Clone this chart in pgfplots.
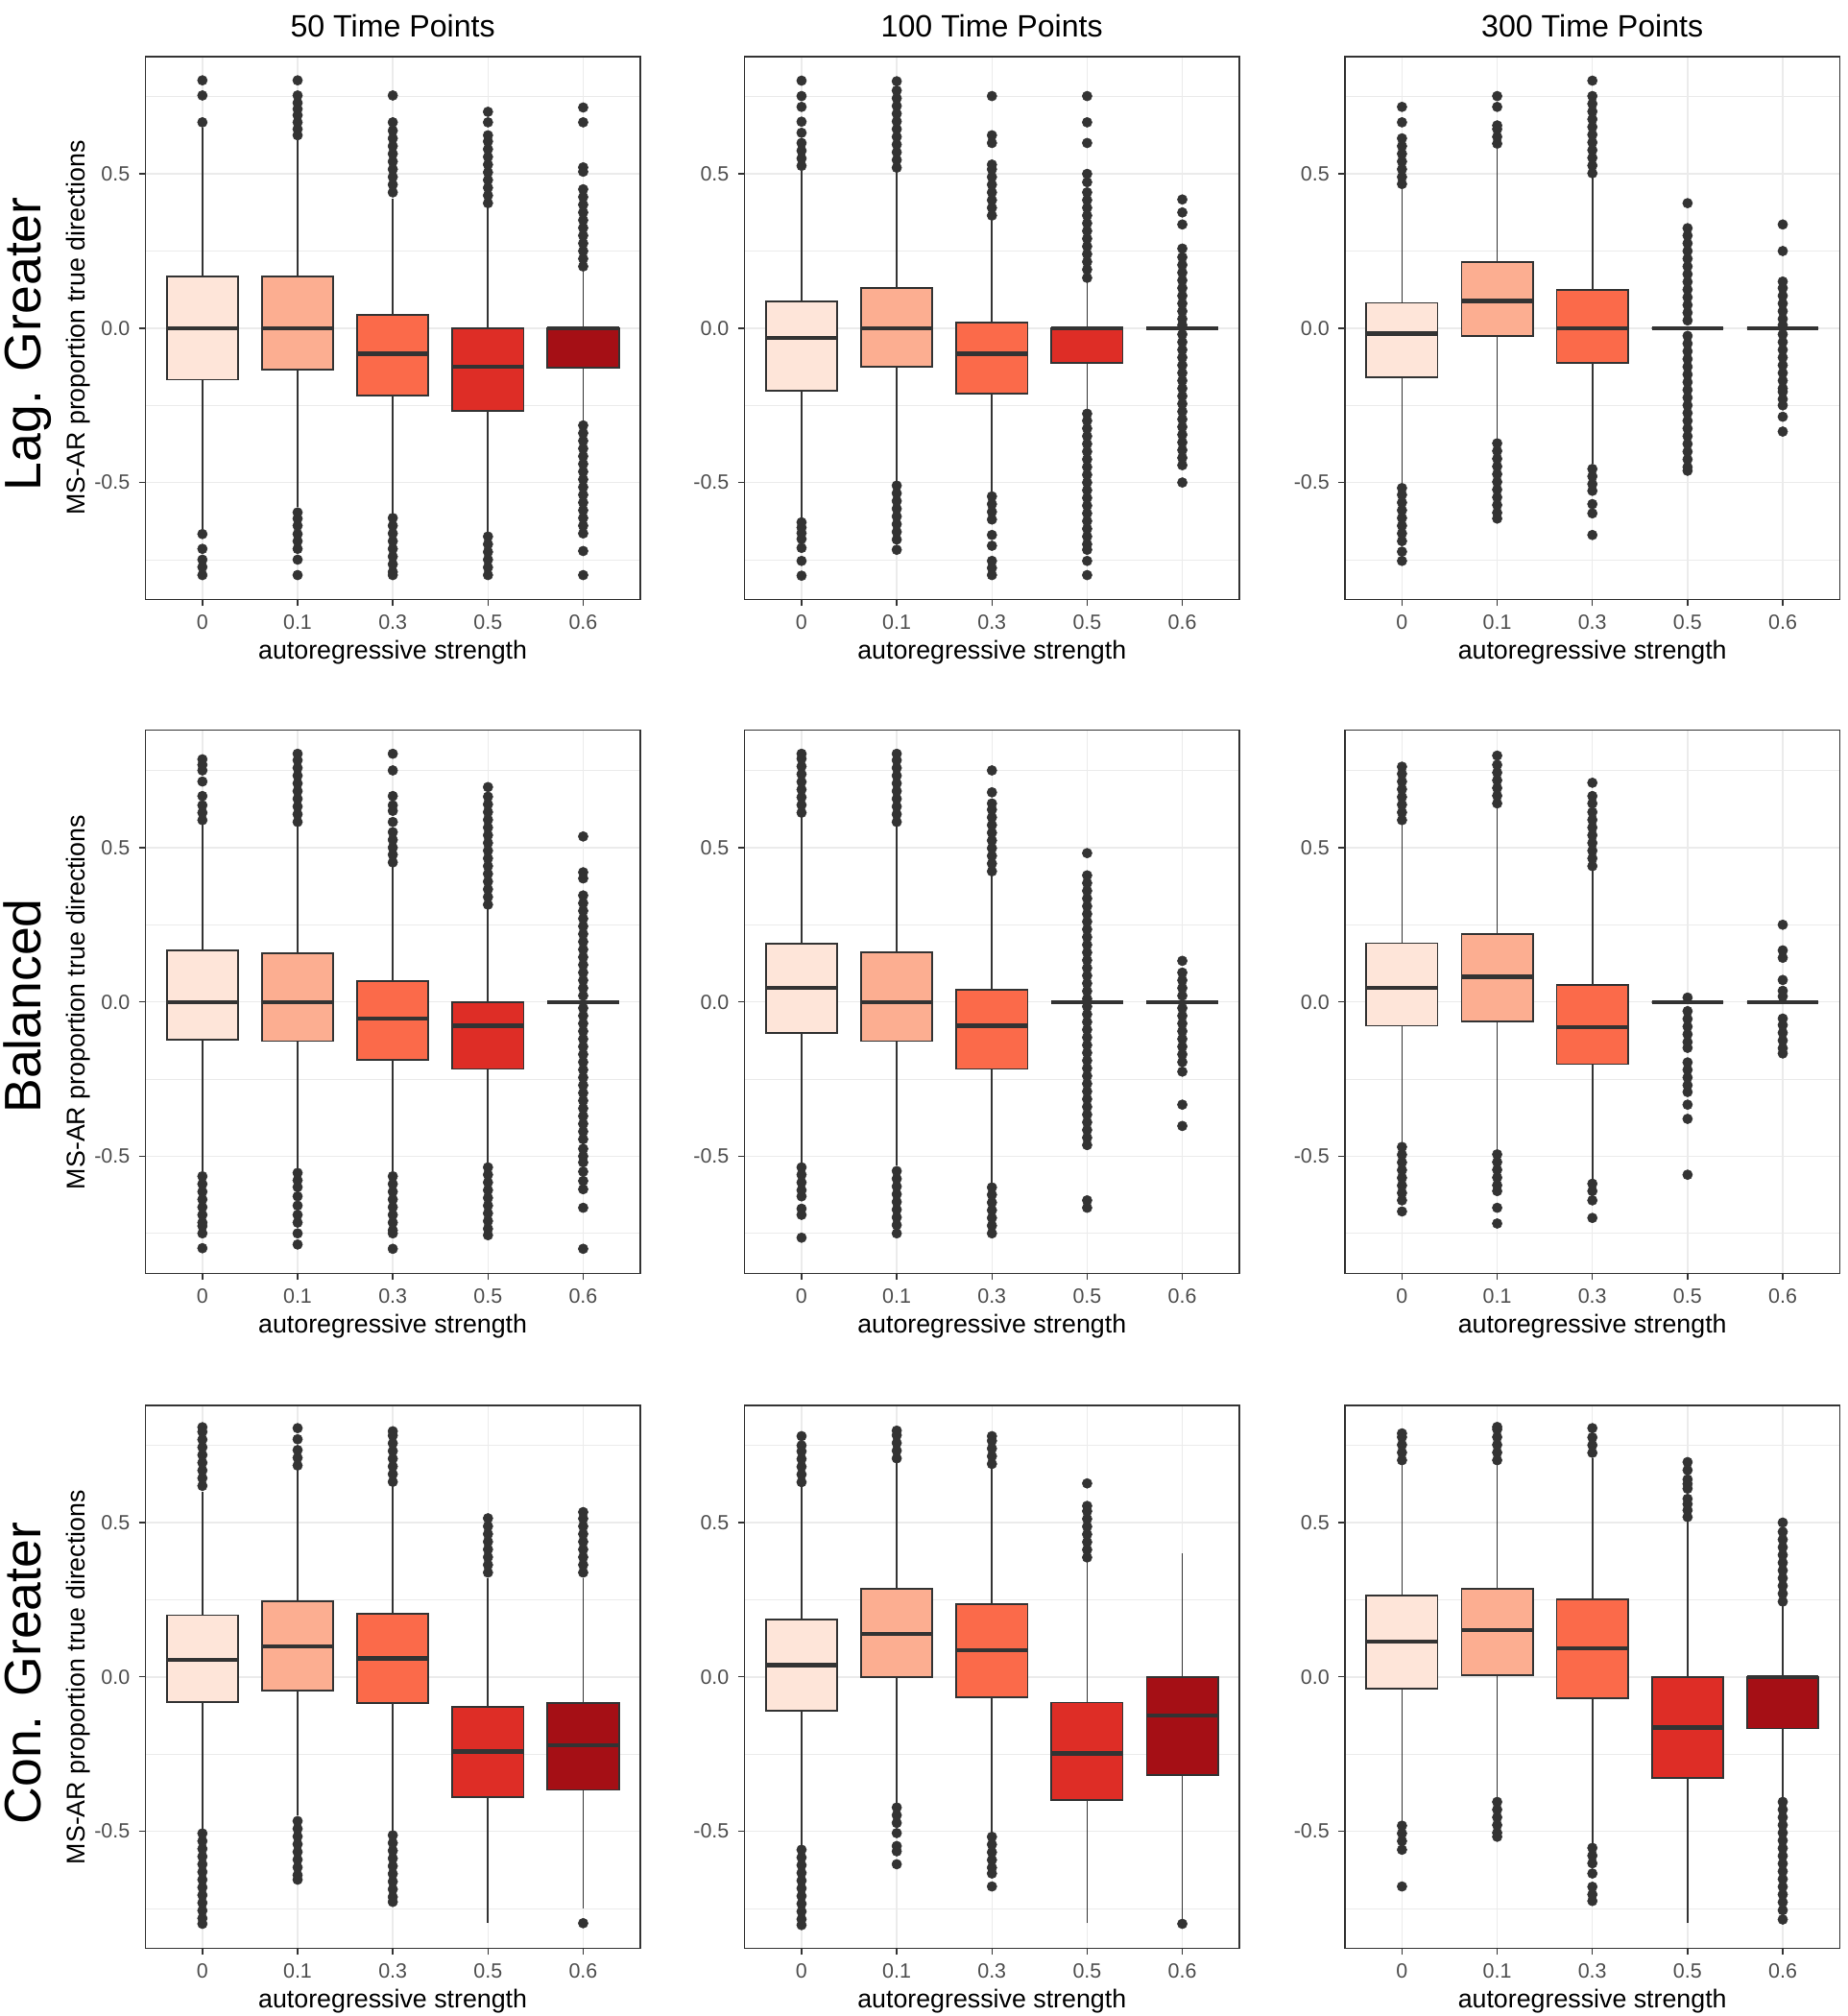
\documentclass[border=0pt]{standalone}
\usepackage{fontspec}
\setmainfont{Liberation Sans}
\usepackage{pgfplots}
\pgfplotsset{compat=1.18}
\usepgfplotslibrary{statistics}
\definecolor{c1}{HTML}{FEE5D9}
\definecolor{c2}{HTML}{FCAE91}
\definecolor{c3}{HTML}{FB6A4A}
\definecolor{c4}{HTML}{DE2D26}
\definecolor{c5}{HTML}{A50F15}
\definecolor{g20}{HTML}{333333}
\definecolor{g30}{HTML}{4D4D4D}
\definecolor{g92}{HTML}{EBEBEB}
\pgfplotsset{
 panel/.style={
   scale only axis, width=192.5pt, height=211.25pt,
   xmin=0.4, xmax=5.6, ymin=-0.88, ymax=0.88,
   xtick={1,2,3,4,5}, xticklabels={0,0.1,0.3,0.5,0.6},
   ytick={-0.5,0,0.5}, yticklabels={-0.5,0.0,0.5},
   minor ytick={-0.75,-0.25,0.25,0.75},
   grid=both,
   major grid style={draw=g92, line width=0.55pt},
   minor grid style={draw=g92, line width=0.3pt},
   xtick pos=bottom, ytick pos=left,
   tick align=outside, major tick length=2.5pt, minor tick length=0pt,
   tick style={draw=g20, line width=0.5pt},
   axis line style={draw=g20, line width=0.5pt},
   tick label style={font=\fontsize{8}{9.6}\selectfont, text=g30},
   xlabel={autoregressive strength},
   every axis x label/.style={at={(axis description cs:0.5,0)}, anchor=base, yshift=-23pt, font=\fontsize{10}{12}\selectfont},
   clip=true,
 },
 bxst/.style={draw=g20, line width=0.65pt, mark=*, mark size=1.9pt,
   mark options={draw=g20, fill=g20, line width=0.2pt, solid, mark size=1.9pt},
   boxplot/draw direction=y,
   boxplot/box extend=0.75, boxplot/whisker extend=0,
   boxplot/every median/.style={line width=1.6pt}},
}
\newcommand{\bx}[8]{%
\addplot[bxst, fill=#2, boxplot prepared={draw position=#1, lower whisker=#3, lower quartile=#4, median=#5, upper quartile=#6, upper whisker=#7}] table[row sep=\\, y index=0, header=false] {#8};}
\begin{document}
\begin{tikzpicture}
\useasboundingbox (0,0) rectangle (718.5pt,-784pt);
% column titles
\node[anchor=base, font=\fontsize{12}{14}\selectfont] at (152.75pt,-14.25pt) {50 Time Points};
\node[anchor=base, font=\fontsize{12}{14}\selectfont] at (385.75pt,-14.25pt) {100 Time Points};
\node[anchor=base, font=\fontsize{12}{14}\selectfont] at (619.25pt,-14.25pt) {300 Time Points};
% row titles
\node[rotate=90, anchor=base, font=\fontsize{20}{24}\selectfont] at (16pt,-133.75pt) {Lag. Greater};
\node[rotate=90, anchor=base, font=\fontsize{20}{24}\selectfont] at (16pt,-391.25pt) {Balanced};
\node[rotate=90, anchor=base, font=\fontsize{20}{24}\selectfont] at (16pt,-650.75pt) {Con. Greater};
% y labels
\node[rotate=90, anchor=base, font=\fontsize{10}{12}\selectfont] at (33pt,-127.5pt) {MS-AR proportion true directions};
\node[rotate=90, anchor=base, font=\fontsize{10}{12}\selectfont] at (33pt,-389.75pt) {MS-AR proportion true directions};
\node[rotate=90, anchor=base, font=\fontsize{10}{12}\selectfont] at (33pt,-652.25pt) {MS-AR proportion true directions};

% ===== Row 1: Lag. Greater =====
\begin{axis}[panel, at={(56.5pt,-22pt)}, anchor=north west]
\bx{1}{c1}{-0.65}{-0.167}{0}{0.167}{0.65}{0.667\\0.754\\0.803\\-0.667\\-0.715\\-0.75\\-0.774\\-0.8\\}
\bx{2}{c2}{-0.58}{-0.135}{0}{0.167}{0.61}{0.625\\0.645\\0.667\\0.69\\0.71\\0.73\\0.754\\0.803\\-0.597\\-0.617\\-0.64\\-0.667\\-0.69\\-0.715\\-0.75\\-0.8\\}
\bx{3}{c3}{-0.6}{-0.218}{-0.083}{0.042}{0.42}{0.44\\0.465\\0.49\\0.515\\0.54\\0.565\\0.59\\0.615\\0.64\\0.667\\0.754\\-0.615\\-0.64\\-0.665\\-0.69\\-0.715\\-0.74\\-0.765\\-0.79\\-0.8\\}
\bx{4}{c4}{-0.66}{-0.268}{-0.125}{0}{0.39}{0.405\\0.43\\0.455\\0.48\\0.505\\0.53\\0.555\\0.58\\0.605\\0.625\\0.667\\0.701\\-0.675\\-0.7\\-0.725\\-0.75\\-0.775\\-0.8\\}
\bx{5}{c5}{-0.3}{-0.128}{0}{0}{0.185}{0.2\\0.225\\0.25\\0.275\\0.3\\0.325\\0.35\\0.375\\0.4\\0.425\\0.45\\0.507\\0.521\\0.667\\0.715\\-0.315\\-0.34\\-0.365\\-0.39\\-0.415\\-0.44\\-0.465\\-0.49\\-0.515\\-0.54\\-0.565\\-0.59\\-0.615\\-0.64\\-0.665\\-0.722\\-0.8\\}
\end{axis}
\begin{axis}[panel, at={(289.5pt,-22pt)}, anchor=north west]
\bx{1}{c1}{-0.62}{-0.202}{-0.031}{0.086}{0.51}{0.526\\0.55\\0.575\\0.6\\0.633\\0.669\\0.717\\0.752\\0.802\\-0.629\\-0.646\\-0.664\\-0.683\\-0.712\\-0.754\\-0.802\\}
\bx{2}{c2}{-0.5}{-0.125}{0}{0.131}{0.51}{0.52\\0.545\\0.57\\0.595\\0.62\\0.645\\0.67\\0.695\\0.72\\0.745\\0.77\\0.8\\-0.51\\-0.535\\-0.56\\-0.585\\-0.61\\-0.635\\-0.66\\-0.685\\-0.718\\}
\bx{3}{c3}{-0.53}{-0.211}{-0.083}{0.018}{0.35}{0.365\\0.39\\0.415\\0.44\\0.465\\0.49\\0.515\\0.53\\0.6\\0.625\\0.752\\-0.545\\-0.57\\-0.595\\-0.62\\-0.67\\-0.705\\-0.754\\-0.777\\-0.8\\}
\bx{4}{c4}{-0.27}{-0.113}{0}{0}{0.15}{0.163\\0.19\\0.215\\0.24\\0.265\\0.29\\0.315\\0.34\\0.365\\0.39\\0.415\\0.44\\0.473\\0.5\\0.6\\0.667\\0.752\\-0.277\\-0.3\\-0.325\\-0.35\\-0.375\\-0.4\\-0.425\\-0.45\\-0.475\\-0.5\\-0.525\\-0.55\\-0.575\\-0.6\\-0.625\\-0.65\\-0.675\\-0.7\\-0.718\\-0.754\\-0.8\\}
\bx{5}{c5}{0}{0}{0}{0}{0}{0.417\\0.375\\0.336\\0.258\\0.23\\0.205\\0.18\\0.155\\0.13\\0.105\\0.08\\0.055\\0.03\\0.01\\-0.02\\-0.045\\-0.07\\-0.095\\-0.12\\-0.145\\-0.17\\-0.195\\-0.22\\-0.245\\-0.27\\-0.295\\-0.32\\-0.345\\-0.37\\-0.395\\-0.42\\-0.444\\-0.5\\}
\end{axis}
\begin{axis}[panel, at={(523pt,-22pt)}, anchor=north west]
\bx{1}{c1}{-0.5}{-0.158}{-0.018}{0.082}{0.45}{0.467\\0.49\\0.515\\0.54\\0.565\\0.59\\0.615\\0.667\\0.717\\-0.518\\-0.54\\-0.565\\-0.59\\-0.615\\-0.64\\-0.665\\-0.69\\-0.724\\-0.754\\}
\bx{2}{c2}{-0.36}{-0.025}{0.088}{0.214}{0.58}{0.598\\0.62\\0.645\\0.657\\0.717\\0.752\\-0.373\\-0.398\\-0.423\\-0.448\\-0.473\\-0.498\\-0.523\\-0.548\\-0.573\\-0.598\\-0.617\\}
\bx{3}{c3}{-0.44}{-0.113}{0}{0.125}{0.49}{0.502\\0.527\\0.552\\0.577\\0.602\\0.627\\0.652\\0.677\\0.702\\0.727\\0.752\\0.802\\-0.456\\-0.48\\-0.505\\-0.527\\-0.57\\-0.6\\-0.67\\}
\bx{4}{c4}{0}{0}{0}{0}{0}{0.405\\0.324\\0.3\\0.275\\0.25\\0.225\\0.2\\0.175\\0.15\\0.125\\0.1\\0.075\\0.05\\0.025\\-0.025\\-0.05\\-0.075\\-0.1\\-0.125\\-0.15\\-0.175\\-0.2\\-0.225\\-0.25\\-0.275\\-0.3\\-0.325\\-0.35\\-0.375\\-0.4\\-0.425\\-0.45\\-0.462\\}
\bx{5}{c5}{0}{0}{0}{0}{0}{0.336\\0.25\\0.151\\0.13\\0.105\\0.08\\0.055\\0.03\\0.01\\-0.02\\-0.045\\-0.07\\-0.095\\-0.12\\-0.145\\-0.17\\-0.195\\-0.206\\-0.23\\-0.25\\-0.287\\-0.335\\}
\end{axis}

% ===== Row 2: Balanced =====
\begin{axis}[panel, at={(56.5pt,-284pt)}, anchor=north west]
\bx{1}{c1}{-0.55}{-0.123}{0}{0.167}{0.575}{0.589\\0.613\\0.637\\0.667\\0.714\\0.75\\0.768\\0.786\\-0.565\\-0.59\\-0.615\\-0.64\\-0.665\\-0.69\\-0.715\\-0.726\\-0.75\\-0.798\\}
\bx{2}{c2}{-0.54}{-0.127}{0}{0.157}{0.57}{0.583\\0.608\\0.633\\0.658\\0.683\\0.708\\0.733\\0.758\\0.783\\0.804\\-0.554\\-0.578\\-0.6\\-0.63\\-0.66\\-0.69\\-0.715\\-0.75\\-0.786\\}
\bx{3}{c3}{-0.55}{-0.187}{-0.054}{0.068}{0.44}{0.452\\0.477\\0.5\\0.525\\0.55\\0.583\\0.619\\0.637\\0.667\\0.75\\0.804\\-0.565\\-0.59\\-0.615\\-0.64\\-0.665\\-0.69\\-0.715\\-0.74\\-0.75\\-0.8\\}
\bx{4}{c4}{-0.52}{-0.217}{-0.077}{0}{0.3}{0.315\\0.34\\0.365\\0.39\\0.415\\0.44\\0.465\\0.49\\0.515\\0.54\\0.565\\0.59\\0.615\\0.64\\0.665\\0.696\\-0.536\\-0.56\\-0.585\\-0.61\\-0.635\\-0.66\\-0.685\\-0.71\\-0.735\\-0.756\\}
\bx{5}{c5}{0}{0}{0}{0}{0}{0.536\\0.42\\0.4\\0.345\\0.32\\0.295\\0.27\\0.245\\0.22\\0.195\\0.17\\0.145\\0.12\\0.095\\0.07\\0.045\\0.02\\-0.02\\-0.045\\-0.07\\-0.095\\-0.12\\-0.145\\-0.17\\-0.195\\-0.22\\-0.245\\-0.27\\-0.295\\-0.32\\-0.345\\-0.37\\-0.395\\-0.42\\-0.445\\-0.476\\-0.5\\-0.52\\-0.55\\-0.58\\-0.607\\-0.667\\-0.8\\}
\end{axis}
\begin{axis}[panel, at={(289.5pt,-284pt)}, anchor=north west]
\bx{1}{c1}{-0.52}{-0.101}{0.045}{0.188}{0.6}{0.613\\0.638\\0.663\\0.688\\0.713\\0.738\\0.763\\0.788\\0.804\\-0.536\\-0.56\\-0.585\\-0.61\\-0.63\\-0.67\\-0.69\\-0.764\\}
\bx{2}{c2}{-0.53}{-0.127}{0}{0.16}{0.57}{0.583\\0.608\\0.633\\0.658\\0.683\\0.708\\0.733\\0.758\\0.783\\0.804\\-0.548\\-0.573\\-0.598\\-0.623\\-0.648\\-0.673\\-0.698\\-0.723\\-0.75\\}
\bx{3}{c3}{-0.59}{-0.217}{-0.077}{0.04}{0.41}{0.423\\0.448\\0.473\\0.498\\0.523\\0.548\\0.573\\0.598\\0.623\\0.643\\0.679\\0.75\\-0.601\\-0.625\\-0.65\\-0.675\\-0.7\\-0.725\\-0.75\\}
\bx{4}{c4}{0}{0}{0}{0}{0}{0.482\\0.41\\0.385\\0.36\\0.335\\0.31\\0.285\\0.26\\0.235\\0.21\\0.185\\0.16\\0.135\\0.11\\0.085\\0.06\\0.035\\0.01\\-0.015\\-0.04\\-0.065\\-0.09\\-0.115\\-0.14\\-0.165\\-0.19\\-0.215\\-0.24\\-0.265\\-0.29\\-0.315\\-0.34\\-0.365\\-0.39\\-0.415\\-0.44\\-0.464\\-0.643\\-0.667\\}
\bx{5}{c5}{0}{0}{0}{0}{0}{0.133\\0.095\\0.07\\0.045\\0.02\\-0.02\\-0.045\\-0.07\\-0.095\\-0.12\\-0.145\\-0.17\\-0.195\\-0.226\\-0.333\\-0.402\\}
\end{axis}
\begin{axis}[panel, at={(523pt,-284pt)}, anchor=north west]
\bx{1}{c1}{-0.46}{-0.077}{0.045}{0.19}{0.575}{0.589\\0.614\\0.639\\0.664\\0.689\\0.714\\0.739\\0.762\\-0.47\\-0.495\\-0.52\\-0.545\\-0.57\\-0.595\\-0.619\\-0.643\\-0.679\\}
\bx{2}{c2}{-0.48}{-0.063}{0.081}{0.22}{0.63}{0.643\\0.668\\0.693\\0.718\\0.743\\0.768\\0.798\\-0.494\\-0.519\\-0.544\\-0.569\\-0.594\\-0.613\\-0.667\\-0.718\\}
\bx{3}{c3}{-0.58}{-0.202}{-0.081}{0.054}{0.43}{0.44\\0.465\\0.49\\0.515\\0.54\\0.565\\0.59\\0.615\\0.643\\0.667\\0.71\\-0.589\\-0.613\\-0.643\\-0.7\\}
\bx{4}{c4}{0}{0}{0}{0}{0}{0.014\\-0.03\\-0.055\\-0.08\\-0.105\\-0.13\\-0.149\\-0.196\\-0.22\\-0.245\\-0.27\\-0.292\\-0.333\\-0.379\\-0.56\\}
\bx{5}{c5}{0}{0}{0}{0}{0}{0.25\\0.167\\0.143\\0.071\\0.036\\0.018\\-0.054\\-0.075\\-0.1\\-0.125\\-0.15\\-0.167\\}
\end{axis}

% ===== Row 3: Con. Greater =====
\begin{axis}[panel, at={(56.5pt,-546.5pt)}, anchor=north west]
\bx{1}{c1}{-0.5}{-0.081}{0.056}{0.2}{0.6}{0.619\\0.644\\0.669\\0.694\\0.719\\0.744\\0.769\\0.794\\0.809\\-0.507\\-0.532\\-0.557\\-0.582\\-0.607\\-0.632\\-0.657\\-0.682\\-0.707\\-0.732\\-0.757\\-0.782\\-0.8\\}
\bx{2}{c2}{-0.45}{-0.045}{0.099}{0.246}{0.67}{0.685\\0.71\\0.735\\0.77\\0.806\\-0.467\\-0.492\\-0.517\\-0.542\\-0.567\\-0.592\\-0.617\\-0.642\\-0.657\\}
\bx{3}{c3}{-0.5}{-0.085}{0.06}{0.204}{0.62}{0.632\\0.657\\0.682\\0.707\\0.732\\0.757\\0.782\\0.796\\-0.513\\-0.538\\-0.563\\-0.588\\-0.613\\-0.638\\-0.663\\-0.688\\-0.713\\-0.729\\}
\bx{4}{c4}{-0.798}{-0.389}{-0.242}{-0.097}{0.32}{0.338\\0.363\\0.388\\0.413\\0.438\\0.463\\0.488\\0.514\\}
\bx{5}{c5}{-0.749}{-0.366}{-0.221}{-0.084}{0.32}{0.338\\0.363\\0.388\\0.413\\0.438\\0.463\\0.488\\0.513\\0.534\\-0.798\\}
\end{axis}
\begin{axis}[panel, at={(289.5pt,-546.5pt)}, anchor=north west]
\bx{1}{c1}{-0.55}{-0.11}{0.038}{0.185}{0.62}{0.631\\0.656\\0.681\\0.706\\0.731\\0.75\\0.78\\-0.56\\-0.585\\-0.61\\-0.635\\-0.66\\-0.685\\-0.71\\-0.735\\-0.76\\-0.785\\-0.804\\}
\bx{2}{c2}{-0.41}{0}{0.139}{0.286}{0.7}{0.708\\0.733\\0.758\\0.783\\0.798\\-0.423\\-0.448\\-0.473\\-0.506\\-0.548\\-0.565\\-0.607\\}
\bx{3}{c3}{-0.51}{-0.065}{0.086}{0.236}{0.68}{0.69\\0.715\\0.74\\0.765\\0.78\\-0.518\\-0.543\\-0.568\\-0.593\\-0.618\\-0.637\\-0.679\\}
\bx{4}{c4}{-0.798}{-0.399}{-0.248}{-0.083}{0.38}{0.387\\0.412\\0.437\\0.462\\0.487\\0.512\\0.537\\0.554\\0.627\\}
\bx{5}{c5}{-0.785}{-0.318}{-0.125}{0}{0.399}{-0.8\\}
\end{axis}
\begin{axis}[panel, at={(523pt,-546.5pt)}, anchor=north west]
\bx{1}{c1}{-0.47}{-0.038}{0.115}{0.264}{0.69}{0.702\\0.727\\0.752\\0.777\\0.789\\-0.482\\-0.507\\-0.532\\-0.56\\-0.679\\}
\bx{2}{c2}{-0.39}{0.006}{0.152}{0.286}{0.69}{0.702\\0.727\\0.752\\0.777\\0.802\\0.81\\-0.405\\-0.43\\-0.455\\-0.48\\-0.505\\-0.518\\}
\bx{3}{c3}{-0.54}{-0.068}{0.092}{0.252}{0.71}{0.726\\0.751\\0.776\\0.806\\-0.554\\-0.579\\-0.604\\-0.637\\-0.68\\-0.705\\-0.726\\}
\bx{4}{c4}{-0.798}{-0.327}{-0.164}{0}{0.505}{0.518\\0.54\\0.56\\0.577\\0.61\\0.625\\0.64\\0.67\\0.696\\}
\bx{5}{c5}{-0.4}{-0.167}{0}{0}{0.23}{0.244\\0.27\\0.295\\0.32\\0.345\\0.37\\0.395\\0.42\\0.445\\0.47\\0.5\\-0.405\\-0.43\\-0.455\\-0.48\\-0.505\\-0.53\\-0.555\\-0.58\\-0.605\\-0.63\\-0.655\\-0.68\\-0.705\\-0.73\\-0.756\\-0.786\\}
\end{axis}
\end{tikzpicture}
\end{document}
